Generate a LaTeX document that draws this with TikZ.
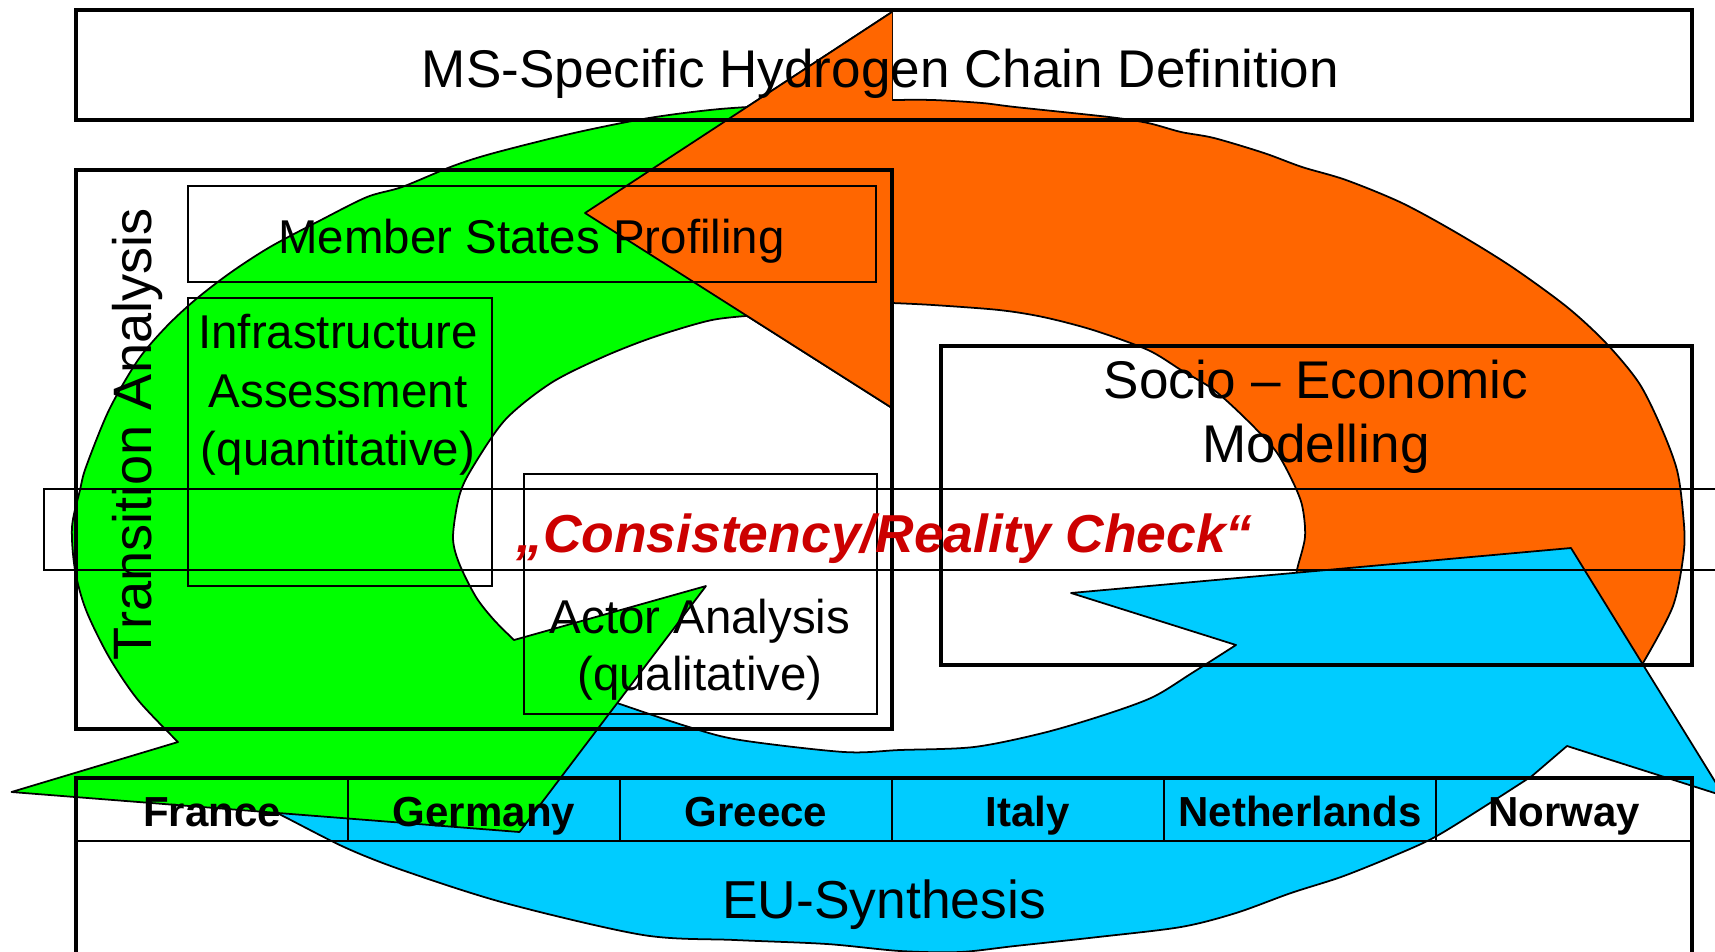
\documentclass[tikz,border=0pt]{standalone}
\usepackage{fontspec}
\setmainfont{Liberation Sans}
\definecolor{h2green}{HTML}{00FF00}
\definecolor{h2orange}{HTML}{FF6600}
\definecolor{h2blue}{HTML}{00CCFF}
\definecolor{checkred}{HTML}{CC0000}

\begin{document}
\begin{tikzpicture}[x=0.1mm,y=-0.1mm,
  bigtxt/.style={inner sep=0pt,anchor=base,font=\fontsize{15.1}{18}\selectfont},
  midtxt/.style={inner sep=0pt,anchor=base,font=\fontsize{13.5}{16}\selectfont},
  landtxt/.style={inner sep=0pt,anchor=base,font=\bfseries\fontsize{11.95}{14}\selectfont},
  thickbox/.style={line width=1.3pt},
  thinbox/.style={line width=0.4pt},
  rowline/.style={line width=0.6pt},
  arrowline/.style={draw=black,line width=0.5pt,line join=round}]
\useasboundingbox (0,0) rectangle (1715,951);
\clip (0,0) rectangle (1715,951);
% orange arrow (right side, head at the top)
\filldraw [fill=h2orange,arrowline] (892,12) -- (585,213) -- (892,408)
  -- plot [smooth] coordinates {(892,303) (933,305) (999,310) (1043,317) (1093,330) (1148,350) (1181,370) (1214,390) (1247,420) (1275,450) (1291,478) (1302,505) (1305,537) (1297,570) (1295,592)}
  -- (1636,676)
  -- plot [smooth] coordinates {(1643,663) (1673,606) (1684,550) (1683,513) (1677,470) (1661,427) (1639,383) (1606,343) (1567,307) (1512,267) (1457,233) (1402,203) (1346,180) (1302,167) (1264,153) (1214,138) (1181,132) (1148,123) (1109,117) (1015,107) (982,103) (933,100) (892,100)}
  -- cycle;
% blue arrow (bottom, head at the right)
\filldraw [fill=h2blue,arrowline] (1571,548) -- (1724,796) -- (1567,746)
  -- plot [smooth] coordinates {(1532,776) (1490,803) (1435,837) (1391,857) (1341,877) (1291,893) (1236,913) (1181,927) (1098,937) (1015,946) (960,952) (900,951) (827,944) (735,940) (643,935) (505,903) (402,870) (344,847) (281,815) (240,795)}
  -- (580,690)
  -- plot [smooth] coordinates {(580,690) (617,703) (689,727) (740,740) (844,752) (900,750) (974,747) (1043,733) (1104,715) (1153,697) (1192,673) (1236,645)}
  -- (1071,593) -- cycle;
% green arrow (left side, head at the bottom)
\filldraw [fill=h2green,arrowline] (519.5,832) -- (11.5,792)
  -- plot [smooth] coordinates {(178,742) (138,700) (109,657) (86,610) (75,570) (72,527) (80,490) (86,467) (109,410) (138,360) (166,327) (195,300) (230,273) (270,247) (321,220) (367,197) (402,187) (453,166) (494,153) (574,133) (649,118) (720,109) (800,104)}
  -- (800,314)
  -- plot [smooth] coordinates {(760,315) (712,320) (654,337) (603,357) (551,383) (505,420) (471,470) (459,497) (453,537) (459,563) (476,597) (494,620) (514,640)}
  -- (706,586) -- cycle;
% orange head once more, over the green tail
\fill [h2orange] (892,12) -- (585,213) -- (892,408) -- cycle;
\draw [arrowline] (892,12) -- (585,213) -- (892,408);
% boxes
\draw [thickbox] (76,10) rectangle (1692,120);
\draw [thickbox] (76,170) rectangle (892,729);
\draw [thinbox] (188,186) rectangle (876,282);
\draw [thinbox] (188,298) rectangle (492,586);
\draw [thinbox] (524,474) rectangle (877,714);
\draw [thickbox] (941,346) rectangle (1692,665);
\draw [thinbox] (44,489) rectangle (1740,570);
\draw [thickbox] (76,1000) -- (76,778) -- (1692,778) -- (1692,1000);
\draw [rowline] (76,841) -- (1692,841);
\foreach \x in {348,620,892,1164,1436}
  \draw [rowline] (\x,778) -- (\x,841);
% texts
\node [bigtxt] (chain) at (880.5,87) {MS-Specific Hydrogen Chain Definition};
\node [bigtxt,font=\fontsize{15.4}{18}\selectfont,rotate=90] (trans) at (151.7,434.5) {Transition Analysis};
\node [midtxt] (msp) at (531.5,253) {Member States Profiling};
\node [midtxt] (infra1) at (338,348) {Infrastructure};
\node [midtxt] (infra2) at (338,407) {Assessment};
\node [midtxt] (infra3) at (338,465.5) {(quantitative)};
\node [midtxt] (actor1) at (700,633) {Actor Analysis};
\node [midtxt] (actor2) at (700,690) {(qualitative)};
\node [bigtxt] (socio1) at (1316,398) {Socio – Economic};
\node [bigtxt] (socio2) at (1316,462) {Modelling};
\node [bigtxt,font=\bfseries\itshape\fontsize{15.2}{18}\selectfont,text=checkred] (check) at (884.5,552) {„Consistency/Reality Check“};
\node [landtxt] (fr) at (212,826) {France};
\node [landtxt] (de) at (484,826) {Germany};
\node [landtxt] (gr) at (756,826) {Greece};
\node [landtxt] (it) at (1028,826) {Italy};
\node [landtxt] (nl) at (1300,826) {Netherlands};
\node [landtxt] (no) at (1564,826) {Norway};
\node [bigtxt,font=\fontsize{15.2}{18}\selectfont] (eu) at (884,918) {EU-Synthesis};
\end{tikzpicture}
\end{document}
